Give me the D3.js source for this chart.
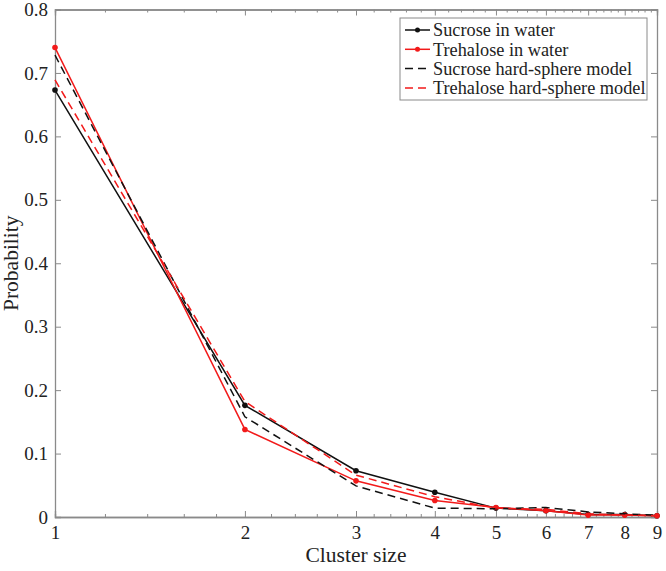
<!DOCTYPE html>
<html>
<head>
<meta charset="utf-8">
<script src="https://cdn.jsdelivr.net/npm/d3@7"></script>
<style>
  body { margin: 0; background: #fff; }
  text { font-family: "Liberation Serif", "Times New Roman", serif; fill: #222; }
</style>
</head>
<body>
<script>
// cluster sizes and probabilities
let sizes = [1, 2, 3, 4, 5, 6, 7, 8, 9]
let sucroseWater = [0.673, 0.176, 0.073, 0.039, 0.014, 0.010, 0.004, 0.004, 0.002]
let trehaloseWater = [0.740, 0.138, 0.057, 0.026, 0.015, 0.010, 0.003, 0.003, 0.002]
let sucroseHS = [0.728, 0.158, 0.049, 0.014, 0.013, 0.015, 0.008, 0.005, 0.003]
let trehaloseHS = [0.689, 0.182, 0.066, 0.032, 0.014, 0.012, 0.005, 0.003, 0.002]
let yTicks = [0, 0.1, 0.2, 0.3, 0.4, 0.5, 0.6, 0.7, 0.8]
let yTickLabels = ['0', '0.1', '0.2', '0.3', '0.4', '0.5', '0.6', '0.7', '0.8']

let series = [
  { name: 'Sucrose in water', values: sucroseWater, color: '#111', dash: null, dots: true },
  { name: 'Trehalose in water', values: trehaloseWater, color: '#f21a1a', dash: null, dots: true },
  { name: 'Sucrose hard-sphere model', values: sucroseHS, color: '#111', dash: '8,5', dots: false },
  { name: 'Trehalose hard-sphere model', values: trehaloseHS, color: '#f21a1a', dash: '8,5', dots: false }
]

let width = 666, height = 571
let margin = { top: 9.5, right: 9, bottom: 54, left: 55 }
let axisColor = '#8a8a8a'

let svg = d3.select('body').append('svg')
  .attr('width', width).attr('height', height)

let x = d3.scaleLog().domain([1, 9]).range([margin.left, width - margin.right])
let y = d3.scaleLinear().domain([0, 0.8]).range([height - margin.bottom, margin.top])

// minor ticks every 0.2 between integers
let minor = d3.range(1, 9, 0.2).map(v => +v.toFixed(1)).filter(v => v % 1 !== 0)

let styleAxis = g => {
  g.select('.domain').attr('stroke', axisColor).attr('stroke-width', 1.3)
  g.selectAll('.tick line').attr('stroke', axisColor).attr('stroke-width', 1)
  g.selectAll('.tick text')
    .style('font-family', '"Liberation Serif", "Times New Roman", serif')
    .style('font-size', '19px').attr('fill', '#222')
}

// bottom axis
svg.append('g')
  .attr('transform', `translate(0,${y(0)})`)
  .call(d3.axisBottom(x).tickValues(minor).tickSize(-3).tickFormat(''))
  .call(styleAxis)
svg.append('g')
  .attr('transform', `translate(0,${y(0)})`)
  .call(d3.axisBottom(x).tickValues(sizes).tickSize(-6).tickPadding(9).tickFormat(d3.format('d')))
  .call(styleAxis)

// top axis
svg.append('g')
  .attr('transform', `translate(0,${y(0.8)})`)
  .call(d3.axisTop(x).tickValues(minor).tickSize(-3).tickFormat(''))
  .call(styleAxis)
svg.append('g')
  .attr('transform', `translate(0,${y(0.8)})`)
  .call(d3.axisTop(x).tickValues(sizes).tickSize(-6).tickFormat(''))
  .call(styleAxis)

// left / right axes
svg.append('g')
  .attr('transform', `translate(${x(1)},0)`)
  .call(d3.axisLeft(y).tickValues(yTicks).tickSize(-6).tickPadding(7)
    .tickFormat((d, i) => yTickLabels[i]))
  .call(styleAxis)
svg.append('g')
  .attr('transform', `translate(${x(9)},0)`)
  .call(d3.axisRight(y).tickValues(yTicks).tickSize(-6).tickFormat(''))
  .call(styleAxis)

// lines
let line = d3.line().x((d, i) => x(sizes[i])).y(d => y(d))

series.forEach(s => {
  svg.append('path')
    .datum(s.values)
    .attr('fill', 'none')
    .attr('stroke', s.color)
    .attr('stroke-width', 1.5)
    .attr('stroke-dasharray', s.dash)
    .attr('d', line)
  if (s.dots) {
    svg.append('g').selectAll('circle').data(s.values).enter()
      .append('circle')
      .attr('cx', (d, i) => x(sizes[i]))
      .attr('cy', d => y(d))
      .attr('r', 2.8)
      .attr('fill', s.color)
  }
})

// legend
let lg = svg.append('g').attr('transform', 'translate(400,18)')
lg.append('rect')
  .attr('width', 247).attr('height', 82)
  .attr('fill', '#fff').attr('stroke', axisColor).attr('stroke-width', 1)
series.forEach((s, i) => {
  let cy = 12 + i * 19.3
  lg.append('line')
    .attr('x1', 5).attr('x2', 30).attr('y1', cy).attr('y2', cy)
    .attr('stroke', s.color).attr('stroke-width', 1.5)
    .attr('stroke-dasharray', s.dash)
  if (s.dots) {
    lg.append('circle').attr('cx', 17.5).attr('cy', cy).attr('r', 2.5).attr('fill', s.color)
  }
  lg.append('text')
    .attr('x', 33).attr('y', cy).attr('dy', '0.35em')
    .style('font-size', '18.3px')
    .text(s.name)
})

// axis labels
svg.append('text')
  .attr('x', (x(1) + x(9)) / 2).attr('y', 562)
  .attr('text-anchor', 'middle')
  .style('font-size', '21.5px')
  .text('Cluster size')
svg.append('text')
  .attr('transform', `translate(18,${(y(0) + y(0.8)) / 2}) rotate(-90)`)
  .attr('text-anchor', 'middle')
  .style('font-size', '21.5px')
  .text('Probability')
</script>
</body>
</html>
